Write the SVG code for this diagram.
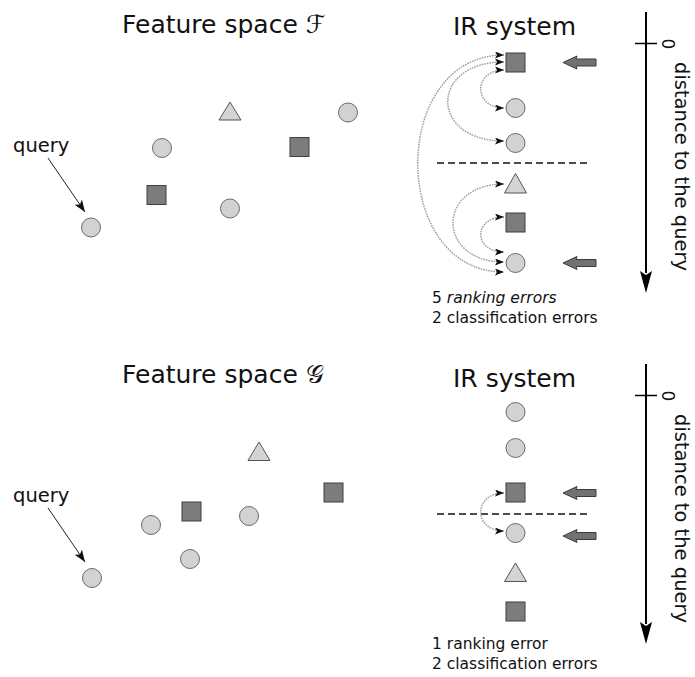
<svg xmlns="http://www.w3.org/2000/svg" width="695" height="677" viewBox="0 0 695 677">
  <style>
    text { font-family: "DejaVu Sans", "Liberation Sans", sans-serif; fill: #111; }
    .title { font-size: 25px; }
    .label { font-size: 19.5px; }
    .note { font-size: 15.5px; }
    .axislbl { font-size: 19.5px; }
    .zero { font-size: 17px; }
    .circ { fill: #d2d2d2; stroke: #6a6a6a; stroke-width: 1; }
    .sq { fill: #7c7c7c; stroke: #3e3e3e; stroke-width: 1; }
    .tri { fill: #d4d4d4; stroke: #555; stroke-width: 1; }
    .block { fill: #727272; stroke: #3a3a3a; stroke-width: 1; }
    .swap { fill: none; stroke: #a0a0a0; stroke-width: 1.5; stroke-dasharray: 1.6 1; marker-start: url(#tip); marker-end: url(#tip); }
    .cut { stroke: #111; stroke-width: 1.5; stroke-dasharray: 7 4; }
    .axis { stroke: #000; stroke-width: 2; fill: none; marker-end: url(#axisHead); }
    .tick { stroke: #000; stroke-width: 1.5; }
    .ptr { stroke: #222; stroke-width: 1; marker-end: url(#ptrHead); }
  </style>
  <defs>
    <marker id="tip" markerUnits="userSpaceOnUse" markerWidth="9" markerHeight="7" refX="9" refY="3.5" orient="auto-start-reverse">
      <path d="M0,0 L9,3.5 L0,7 L2,3.5 Z" fill="#111"/>
    </marker>
    <marker id="axisHead" markerUnits="userSpaceOnUse" markerWidth="23" markerHeight="13" refX="2" refY="6.5" orient="auto">
      <path d="M0,0.5 L22,6.5 L0,12.5 L4,6.5 Z" fill="#000"/>
    </marker>
    <marker id="ptrHead" markerUnits="userSpaceOnUse" markerWidth="12" markerHeight="9" refX="12" refY="4.5" orient="auto">
      <path d="M0,0 L12,4.5 L0,9 L3,4.5 Z" fill="#111"/>
    </marker>
    <path id="leftArrow" d="M0,0 L14,-6.5 L13,-3.5 L33,-3.5 L33,3.5 L13,3.5 L14,6.5 Z"/>
  </defs>

  <!-- ===== Upper half: feature space F ===== -->
  <text class="title" x="122" y="33">Feature space ℱ</text>
  <text class="label" x="13" y="152">query</text>

  <g id="f-query"><circle class="circ" cx="91" cy="227.5" r="9.5"/></g>
  <g id="f-circle-a"><circle class="circ" cx="162" cy="148" r="9.5"/></g>
  <g id="f-circle-b"><circle class="circ" cx="230" cy="208.5" r="9.5"/></g>
  <g id="f-circle-c"><circle class="circ" cx="348" cy="112.5" r="9.5"/></g>
  <g id="f-square-a"><rect class="sq" x="147" y="185.5" width="19" height="19"/></g>
  <g id="f-square-b"><rect class="sq" x="290" y="137.5" width="19" height="19"/></g>
  <g id="f-triangle"><polygon class="tri" points="230,102 241,120 219,120"/></g>

  <!-- ranking produced in F -->
  <text class="title" x="453" y="35">IR system</text>
  <g id="f-rank-1"><rect class="sq" x="506" y="53" width="19" height="19"/></g>
  <g id="f-rank-2"><circle class="circ" cx="515.5" cy="108" r="9.5"/></g>
  <g id="f-rank-3"><circle class="circ" cx="515.5" cy="143" r="9.5"/></g>
  <g id="f-rank-4"><polygon class="tri" points="515.5,173.5 526.5,193 504.5,193"/></g>
  <g id="f-rank-5"><rect class="sq" x="506" y="213" width="19" height="19"/></g>
  <g id="f-rank-6"><circle class="circ" cx="515.5" cy="263" r="9.5"/></g>
  <line class="cut" x1="437" y1="163" x2="590" y2="163"/>

  <g id="f-marks">
    <use href="#leftArrow" class="block" x="563" y="62.5"/>
    <use href="#leftArrow" class="block" x="563" y="263"/>
  </g>

  <text class="note" x="432" y="303">5 <tspan font-style="italic">ranking errors</tspan></text>
  <text class="note" x="432" y="323">2 classification errors</text>

  <!-- distance axis, upper -->
  <g id="f-axis">
    <line class="axis" x1="646" y1="12" x2="646" y2="273"/>
    <line class="tick" x1="635" y1="43.5" x2="657" y2="43.5"/>
    <text class="zero" transform="translate(662,44) rotate(90)" text-anchor="middle">0</text>
    <text class="axislbl" transform="translate(675,62) rotate(90)">distance to the query</text>
  </g>

  <!-- ===== Lower half: feature space G ===== -->
  <text class="title" x="122" y="383">Feature space 𝒢</text>
  <text class="label" x="13" y="502">query</text>

  <g id="g-query"><circle class="circ" cx="92" cy="578" r="9.5"/></g>
  <g id="g-circle-a"><circle class="circ" cx="151" cy="525" r="9.5"/></g>
  <g id="g-circle-b"><circle class="circ" cx="190" cy="559" r="9.5"/></g>
  <g id="g-circle-c"><circle class="circ" cx="249" cy="516" r="9.5"/></g>
  <g id="g-square-a"><rect class="sq" x="182" y="502" width="19" height="19"/></g>
  <g id="g-square-b"><rect class="sq" x="324" y="483" width="19" height="19"/></g>
  <g id="g-triangle"><polygon class="tri" points="259,442 270,460.5 248,460.5"/></g>

  <!-- ranking produced in G -->
  <text class="title" x="453" y="387">IR system</text>
  <g id="g-rank-1"><circle class="circ" cx="515.5" cy="412" r="9.5"/></g>
  <g id="g-rank-2"><circle class="circ" cx="515.5" cy="448" r="9.5"/></g>
  <g id="g-rank-3"><rect class="sq" x="506" y="483" width="19" height="19"/></g>
  <g id="g-rank-4"><circle class="circ" cx="515.5" cy="533" r="9.5"/></g>
  <g id="g-rank-5"><polygon class="tri" points="515.5,563 526.5,581.5 504.5,581.5"/></g>
  <g id="g-rank-6"><rect class="sq" x="506" y="602" width="19" height="19"/></g>
  <line class="cut" x1="437" y1="514" x2="590" y2="514"/>

  <g id="g-marks">
    <use href="#leftArrow" class="block" x="563" y="493"/>
    <use href="#leftArrow" class="block" x="563" y="536"/>
  </g>

  <text class="note" x="432" y="649">1 ranking error</text>
  <text class="note" x="432" y="669">2 classification errors</text>

  <!-- distance axis, lower -->
  <g id="g-axis">
    <line class="axis" x1="646" y1="364" x2="646" y2="624"/>
    <line class="tick" x1="635" y1="395.5" x2="657" y2="395.5"/>
    <text class="zero" transform="translate(662,396) rotate(90)" text-anchor="middle">0</text>
    <text class="axislbl" transform="translate(675,414) rotate(90)">distance to the query</text>
  </g>

  <!-- connectors: query pointers and swapped-pair arcs -->
  <g id="connectors">
    <line class="ptr" x1="48" y1="158" x2="85" y2="212"/>
    <line class="ptr" x1="48" y1="508" x2="85" y2="562"/>
    <path class="swap" d="M504,70 C473,70 473,108 504,108"/>
    <path class="swap" d="M504,62 C429,62 429,141 504,141"/>
    <path class="swap" d="M504,55 C389,55 389,272 504,272"/>
    <path class="swap" d="M504,184 C436,184 436,262 504,262"/>
    <path class="swap" d="M504,217 C473,217 473,252 504,252"/>
    <path class="swap" d="M504,493 C473,493 473,531 504,531"/>
  </g>
</svg>
